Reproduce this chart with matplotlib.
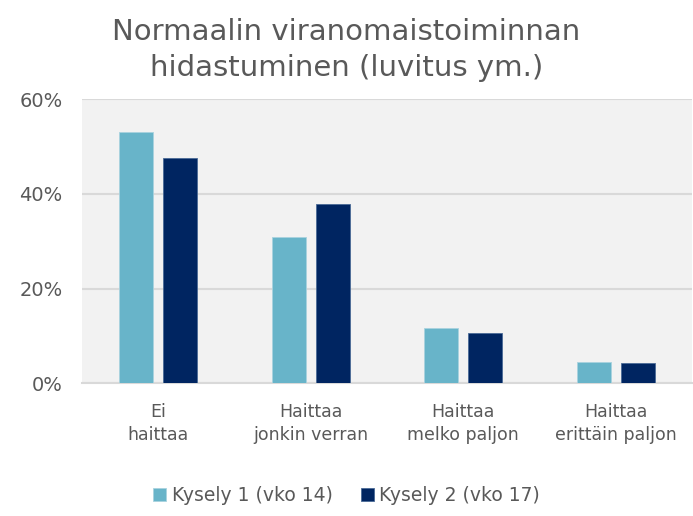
import matplotlib
matplotlib.use("Agg")
import matplotlib.pyplot as plt
import numpy as np

# Data
categories = ["Ei\nhaittaa", "Haittaa\njonkin verran", "Haittaa\nmelko paljon", "Haittaa\nerittäin paljon"]
kysely1 = [53.1, 30.8, 11.6, 4.4]
kysely2 = [47.5, 37.8, 10.6, 4.2]
series_labels = ["Kysely 1 (vko 14)", "Kysely 2 (vko 17)"]
yticks = [0, 20, 40, 60]

LIGHT = "#68b4c9"
DARK = "#002561"
TEXT = "#595959"
FONT = ["DejaVu Sans"]

plt.rcParams["font.family"] = FONT

fig = plt.figure(figsize=(6.93, 5.16), dpi=100)
ax = fig.add_axes([0.1183, 0.2572, 0.8803, 0.5504])
ax.set_facecolor("#f2f2f2")

x = np.arange(len(categories))
w = 0.223
off = (w + 0.066) / 2
ax.bar(x - off, kysely1, w, color=LIGHT, edgecolor="#a9d3df", linewidth=0.6,
       label=series_labels[0], zorder=3)
ax.bar(x + off, kysely2, w, color=DARK, edgecolor="#4a6a96", linewidth=0.6,
       label=series_labels[1], zorder=3)

ax.set_xlim(-0.5, len(categories) - 0.5)
ax.set_ylim(0, 60)
ax.set_yticks(yticks)
ax.set_yticklabels([f"{v}%" for v in yticks], fontsize=14)
ax.yaxis.grid(True, color="#d9d9d9", linewidth=1.5, zorder=0)
ax.set_axisbelow(True)
ax.set_xticks(x)
ax.set_xticklabels(categories, linespacing=1.4, fontsize=12.5)

for s in ["top", "right", "left"]:
    ax.spines[s].set_visible(False)
ax.spines["bottom"].set_color("#d9d9d9")
ax.spines["bottom"].set_linewidth(1.5)

ax.tick_params(axis="both", length=0, colors=TEXT)
ax.tick_params(axis="y", pad=14)
ax.tick_params(axis="x", pad=14)

fig.suptitle("Normaalin viranomaistoiminnan\nhidastuminen (luvitus ym.)",
             x=0.5, y=0.966, fontsize=21, color=TEXT, linespacing=1.4)

fig.legend(loc="lower center", bbox_to_anchor=(0.5, -0.012), ncol=2, frameon=False,
           fontsize=13.5, labelcolor=TEXT, handlelength=0.7, handleheight=0.7,
           handletextpad=0.3, columnspacing=1.5)

fig.savefig("out.png", dpi=100)
